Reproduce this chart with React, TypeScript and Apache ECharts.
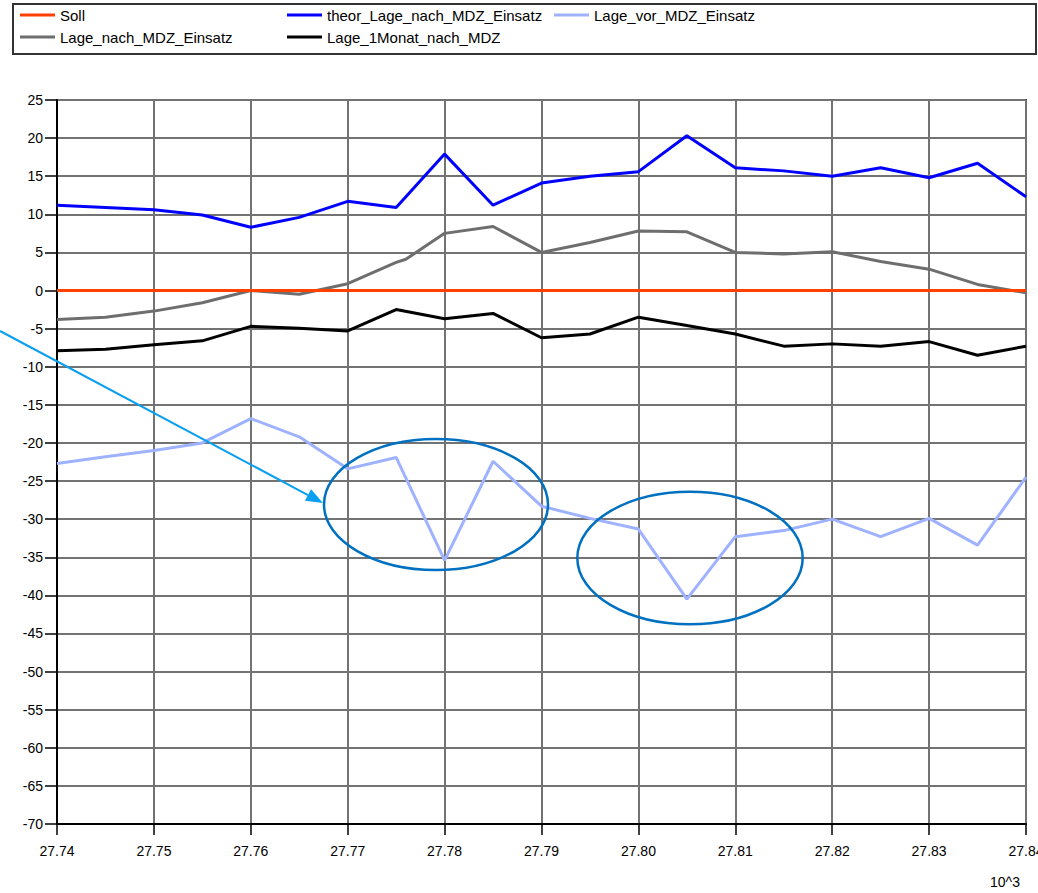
import React, { useEffect, useRef } from "react";
import * as echarts from "echarts";

// Station positions (in 10^3 units on the axis)
const X_STATIONS = [
  27740, 27745, 27750, 27755, 27760, 27765, 27770, 27775, 27780, 27785, 27790,
  27795, 27800, 27805, 27810, 27815, 27820, 27825, 27830, 27835, 27840,
];
const X_STATIONS_NACH = [
  27740, 27745, 27750, 27755, 27760, 27765, 27770, 27775, 27776, 27780, 27785,
  27790, 27795, 27800, 27805, 27810, 27815, 27820, 27825, 27830, 27835, 27840,
];

const SOLL = [0, 0, 0, 0, 0, 0, 0, 0, 0, 0, 0, 0, 0, 0, 0, 0, 0, 0, 0, 0, 0];
const THEOR_LAGE_NACH = [
  11.2, 10.9, 10.6, 9.9, 8.3, 9.6, 11.7, 10.9, 17.9, 11.2, 14.1, 15.0, 15.6,
  20.3, 16.1, 15.7, 15.0, 16.1, 14.8, 16.7, 12.3,
];
const LAGE_VOR = [
  -22.7, -21.8, -21.0, -20.0, -16.8, -19.2, -23.4, -21.9, -35.4, -22.4, -28.3,
  -29.9, -31.3, -40.5, -32.3, -31.5, -30.0, -32.3, -29.9, -33.4, -24.5,
];
const LAGE_NACH = [
  -3.8, -3.5, -2.7, -1.6, 0.0, -0.5, 0.9, 3.7, 4.1, 7.5, 8.4, 5.0, 6.3, 7.8,
  7.7, 5.0, 4.8, 5.1, 3.8, 2.8, 0.8, -0.3,
];
const LAGE_1MONAT = [
  -7.9, -7.7, -7.1, -6.6, -4.7, -4.95, -5.3, -2.5, -3.7, -3.0, -6.2, -5.7, -3.5,
  -4.6, -5.7, -7.3, -7.0, -7.3, -6.7, -8.5, -7.3,
];

const FONT = "'Liberation Sans', Arial, sans-serif";

const pairs = (xs: number[], ys: number[]) => xs.map((x, i) => [x, ys[i]]);

export default function App() {
  const ref = useRef<HTMLDivElement>(null);

  useEffect(() => {
    if (!ref.current) return;
    const chart = echarts.init(ref.current, null, { renderer: "svg" });

    const legendBase = {
      orient: "vertical" as const,
      top: 7.5,
      padding: 0,
      itemGap: 7,
      itemWidth: 35,
      itemHeight: 3,
      icon: "rect",
      textStyle: { fontFamily: FONT, fontSize: 15, color: "#000" },
    };

    // Arrow geometry pointing at the first highlighted region
    const tip = [323, 503];
    const start = [0, 331];
    const dx = tip[0] - start[0];
    const dy = tip[1] - start[1];
    const len = Math.sqrt(dx * dx + dy * dy);
    const ux = dx / len;
    const uy = dy / len;
    const headLen = 17;
    const headHalf = 6.5;
    const bx = tip[0] - ux * headLen;
    const by = tip[1] - uy * headLen;

    const seriesLine = (
      name: string,
      xs: number[],
      ys: number[],
      color: string,
      z: number
    ) => ({
      name,
      type: "line" as const,
      data: pairs(xs, ys),
      showSymbol: false,
      symbol: "none",
      color,
      z,
      lineStyle: { color, width: 3 },
    });

    chart.setOption({
      animation: false,
      backgroundColor: "#fff",
      grid: {
        left: 57,
        right: 12,
        top: 100,
        bottom: 69,
        outerBoundsMode: "none",
        show: true,
        borderColor: "#333",
        borderWidth: 2,
      },
      legend: [
        { ...legendBase, left: 20, data: ["Soll", "Lage_nach_MDZ_Einsatz"] },
        {
          ...legendBase,
          left: 287,
          data: ["theor_Lage_nach_MDZ_Einsatz", "Lage_1Monat_nach_MDZ"],
        },
        { ...legendBase, left: 554, data: ["Lage_vor_MDZ_Einsatz"] },
      ],
      xAxis: {
        type: "value",
        min: 27740,
        max: 27840,
        interval: 10,
        axisLine: { show: true, onZero: false, lineStyle: { color: "#000", width: 2 } },
        axisTick: { show: true, length: 11, lineStyle: { color: "#000", width: 1.5 } },
        axisLabel: {
          margin: 20,
          fontFamily: FONT,
          fontSize: 14,
          color: "#000",
          showMaxLabel: true,
          showMinLabel: true,
          formatter: (v: number) => (v / 1000).toFixed(2),
        },
        splitLine: { show: true, lineStyle: { color: "#737373", width: 2 } },
      },
      yAxis: {
        type: "value",
        min: -70,
        max: 25,
        interval: 5,
        axisLine: { show: true, onZero: false, lineStyle: { color: "#000", width: 2 } },
        axisTick: { show: true, length: 12, lineStyle: { color: "#000", width: 1.5 } },
        axisLabel: {
          margin: 14,
          fontFamily: FONT,
          fontSize: 14,
          color: "#000",
          showMaxLabel: true,
          showMinLabel: true,
        },
        splitLine: { show: true, lineStyle: { color: "#737373", width: 2 } },
      },
      series: [
        seriesLine("Lage_nach_MDZ_Einsatz", X_STATIONS_NACH, LAGE_NACH, "#6e6e6e", 2),
        seriesLine("Lage_1Monat_nach_MDZ", X_STATIONS, LAGE_1MONAT, "#000000", 3),
        seriesLine("theor_Lage_nach_MDZ_Einsatz", X_STATIONS, THEOR_LAGE_NACH, "#0000ff", 4),
        seriesLine("Lage_vor_MDZ_Einsatz", X_STATIONS, LAGE_VOR, "#9fb2ff", 5),
        seriesLine("Soll", X_STATIONS, SOLL, "#ff4000", 6),
      ],
      graphic: [
        {
          type: "rect",
          shape: { x: 13, y: 4, width: 1023, height: 50 },
          style: { fill: "none", stroke: "#333", lineWidth: 2 },
          z: 1,
        },
        {
          type: "text",
          left: 990,
          top: 875,
          style: { text: "10^3", fontFamily: FONT, fontSize: 14, fill: "#000" },
        },
        {
          type: "line",
          shape: { x1: start[0], y1: start[1], x2: bx, y2: by },
          style: { stroke: "#0a9ff0", lineWidth: 2 },
          z: 100,
        },
        {
          type: "polygon",
          shape: {
            points: [
              [tip[0], tip[1]],
              [bx - uy * headHalf, by + ux * headHalf],
              [bx + uy * headHalf, by - ux * headHalf],
            ],
          },
          style: { fill: "#0a9ff0" },
          z: 100,
        },
        {
          type: "ellipse",
          shape: { cx: 436, cy: 504.5, rx: 112, ry: 65.5 },
          style: { fill: "none", stroke: "#0070c0", lineWidth: 2.5 },
          z: 100,
        },
        {
          type: "ellipse",
          shape: { cx: 690, cy: 558, rx: 112.7, ry: 66.3 },
          style: { fill: "none", stroke: "#0070c0", lineWidth: 2.5 },
          z: 100,
        },
      ],
    });

    return () => chart.dispose();
  }, []);

  return (
    <div
      ref={ref}
      style={{ position: "fixed", left: 0, top: 0, width: 1038, height: 893 }}
    />
  );
}
